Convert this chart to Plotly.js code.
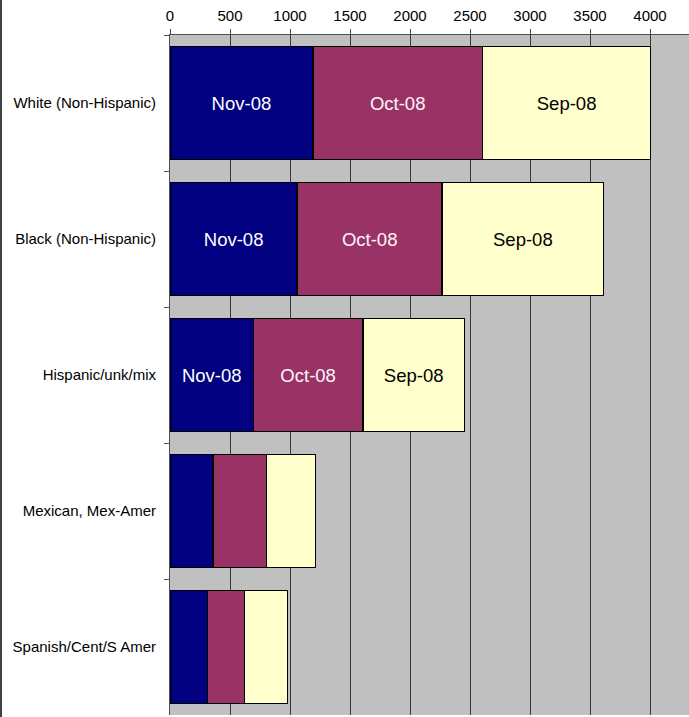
<!DOCTYPE html>
<html>
<head>
<meta charset="utf-8">
<script src="https://cdn.plot.ly/plotly-3.0.1.min.js"></script>
<style>
  html, body { margin: 0; padding: 0; background: #fff; }
  #chart { width: 689px; height: 717px; }
</style>
</head>
<body>
<div id="chart"></div>
<script>
const groups = [
  "White (Non-Hispanic)",
  "Black (Non-Hispanic)",
  "Hispanic/unk/mix",
  "Mexican, Mex-Amer",
  "Spanish/Cent/S Amer"
];

const nov08 = [1190, 1060, 695, 358, 311];
const oct08 = [1415, 1208, 912, 448, 308];
const sep08 = [1400, 1345, 847, 405, 359];

// only the three large bars carry an in-bar label
const labelled = [true, true, true, false, false];

const xTicks = [0, 500, 1000, 1500, 2000, 2500, 3000, 3500, 4000];

const font = "Arial, 'Liberation Sans', sans-serif";

function series(name, values, fill, textColor) {
  return {
    type: "bar",
    orientation: "h",
    name,
    y: groups,
    x: values,
    text: labelled.map(on => on ? name : ""),
    textposition: "inside",
    insidetextanchor: "middle",
    constraintext: "none",
    textfont: { family: font, size: 18.5, color: textColor },
    marker: { color: fill, line: { color: "#000", width: 1.5 } },
    hoverinfo: "skip"
  };
}

const traces = [
  series("Nov-08", nov08, "#000080", "#ffffff"),
  series("Oct-08", oct08, "#993366", "#fff4fa"),
  series("Sep-08", sep08, "#ffffcc", "#000000")
];

const layout = {
  width: 689,
  height: 717,
  margin: { l: 170, r: 0, t: 35, b: 2 },
  barmode: "stack",
  bargap: 0.17,
  showlegend: false,
  paper_bgcolor: "#ffffff",
  plot_bgcolor: "#c0c0c0",
  font: { family: font, size: 15, color: "#000" },
  xaxis: {
    side: "top",
    range: [0, 4325],
    tickvals: xTicks,
    ticktext: xTicks.map(String),
    ticks: "outside",
    ticklen: 5,
    tickcolor: "#505050",
    showgrid: true,
    gridcolor: "#383838",
    gridwidth: 1,
    zeroline: false,
    showline: true,
    linecolor: "#505050",
    linewidth: 1,
    ticklabelstandoff: 2,
    tickfont: { family: font, size: 15, color: "#000" }
  },
  yaxis: {
    autorange: "reversed",
    ticks: "outside",
    tickson: "boundaries",
    ticklen: 5,
    tickcolor: "#505050",
    showgrid: false,
    showline: true,
    linecolor: "#505050",
    linewidth: 1,
    ticklabelstandoff: 10,
    tickfont: { family: font, size: 15, color: "#000" }
  },
  shapes: [{
    type: "line",
    xref: "paper", yref: "paper",
    x0: -169 / 519, x1: -169 / 519,
    y0: -0.01, y1: 1.06,
    line: { color: "#404040", width: 2 }
  }]
};

Plotly.newPlot("chart", traces, layout, { displayModeBar: false, staticPlot: true });
</script>
</body>
</html>
